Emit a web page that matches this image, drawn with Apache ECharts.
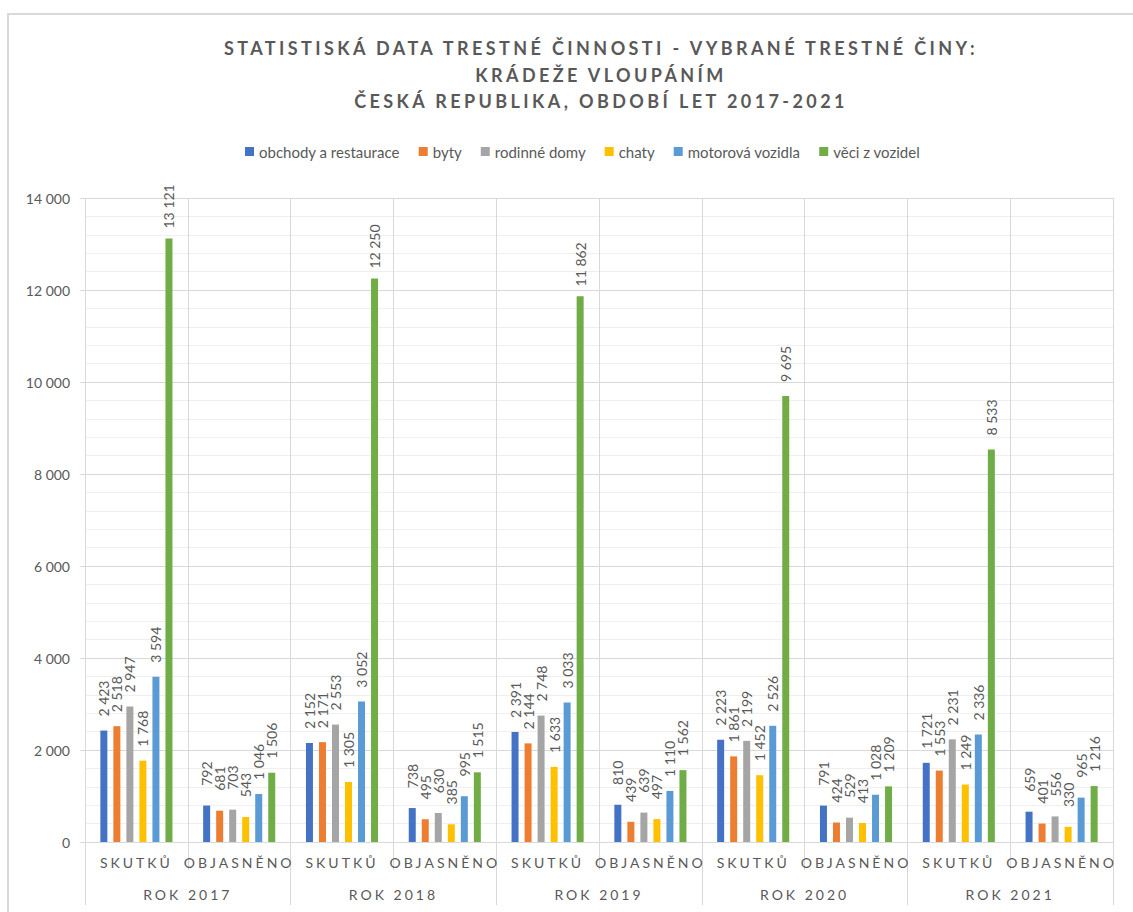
<!DOCTYPE html>
<html>
<head>
<meta charset="utf-8">
<script src="https://cdn.jsdelivr.net/npm/echarts@6/dist/echarts.min.js"></script>
<style>
html,body{margin:0;padding:0;background:#fff;}
#chart{width:1133px;height:912px;}
</style>
</head>
<body>
<div id="chart"></div>
<script>
var titleText = 'STATISTISKÁ DATA TRESTNÉ ČINNOSTI - VYBRANÉ TRESTNÉ ČINY:\nKRÁDEŽE VLOUPÁNÍM\nČESKÁ REPUBLIKA, OBDOBÍ LET 2017-2021';
var categories = ['SKUTKŮ','OBJASNĚNO','SKUTKŮ','OBJASNĚNO','SKUTKŮ','OBJASNĚNO','SKUTKŮ','OBJASNĚNO','SKUTKŮ','OBJASNĚNO'];
var years = ['ROK 2017','ROK 2018','ROK 2019','ROK 2020','ROK 2021'];
var seriesNames = ['obchody a restaurace','byty','rodinné domy','chaty','motorová vozidla','věci z vozidel'];
var obchody = [2423, 792, 2152, 738, 2391, 810, 2223, 791, 1721, 659];
var byty = [2518, 681, 2171, 495, 2144, 439, 1861, 424, 1553, 401];
var rodinneDomy = [2947, 703, 2553, 630, 2748, 639, 2199, 529, 2231, 556];
var chaty = [1768, 543, 1305, 385, 1633, 497, 1452, 413, 1249, 330];
var motorovaVozidla = [3594, 1046, 3052, 995, 3033, 1110, 2526, 1028, 2336, 965];
var veciZVozidel = [13121, 1506, 12250, 1515, 11862, 1562, 9695, 1209, 8533, 1216];
var colors = ['#4472C4','#ED7D31','#A5A5A5','#FFC000','#5B9BD5','#70AD47'];

var allData = [obchody, byty, rodinneDomy, chaty, motorovaVozidla, veciZVozidel];
function fmt(v){ return String(v).replace(/\B(?=(\d{3})+(?!\d))/g, ' '); }
var FONT = 'Lato, "Open Sans", sans-serif';
var GRAY = '#595959';
var LINE = '#D9D9D9';

var chart = echarts.init(document.getElementById('chart'), null, {renderer: 'svg'});
var series = allData.map(function(d, i){
  return {
    name: seriesNames[i],
    type: 'bar',
    xAxisIndex: 0,
    data: d,
    barWidth: 7,
    barGap: '86%',
    itemStyle: {color: colors[i]},
    label: {
      show: true,
      position: 'top',
      rotate: 90,
      align: 'center',
      verticalAlign: 'middle',
      distance: 32,
      color: GRAY,
      fontSize: 14,
      fontFamily: FONT,
      formatter: function(p){ return fmt(p.value); }
    }
  };
});

chart.setOption({
  animation: false,
  color: colors,
  graphic: [{
    type: 'rect',
    shape: {x: 8, y: 14, width: 1200, height: 1000},
    style: {fill: 'none', stroke: LINE, lineWidth: 2},
    silent: true, z: -10
  }],
  title: {
    text: titleText,
    left: 596,
    textAlign: 'center',
    top: 30,
    textStyle: {fontSize: 18, fontWeight: 'bold', color: GRAY, fontFamily: FONT, lineHeight: 26.5}
  },
  legend: {
    top: 139,
    left: 240,
    icon: 'rect',
    itemWidth: 9,
    itemHeight: 9,
    itemGap: 19,
    textStyle: {fontSize: 15, color: GRAY, fontFamily: FONT},
    data: seriesNames
  },
  grid: {left: 85, right: 20, top: 198, bottom: 70, containLabel: false},
  xAxis: [{
    type: 'category',
    data: categories,
    position: 'bottom',
    axisLine: {show: true, lineStyle: {color: LINE, width: 1}},
    axisTick: {show: true, length: 28, interval: 0, lineStyle: {color: LINE}},
    splitLine: {show: true, interval: 0, lineStyle: {color: LINE}},
    axisLabel: {interval: 0, margin: 13, fontSize: 14, color: GRAY, fontFamily: FONT}
  }, {
    type: 'category',
    data: years,
    position: 'bottom',
    axisLine: {show: false},
    axisTick: {show: true, length: 63, interval: 0, lineStyle: {color: LINE}},
    splitLine: {show: false},
    axisLabel: {interval: 0, margin: 45, fontSize: 14, color: GRAY, fontFamily: FONT}
  }],
  yAxis: {
    type: 'value',
    min: 0, max: 14000, interval: 2000,
    axisLine: {show: false},
    axisTick: {show: true, length: 5, lineStyle: {color: LINE}},
    axisLabel: {margin: 15, fontSize: 14, color: GRAY, fontFamily: FONT, formatter: function(v){ return fmt(v); }},
    splitLine: {show: true, lineStyle: {color: LINE}},
    minorTick: {show: false, splitNumber: 5},
    minorSplitLine: {show: true, lineStyle: {color: '#EFEFEF'}}
  },
  series: series
});

function applySpacing(){
  var texts = document.querySelectorAll('#chart svg text');
  texts.forEach(function(t){
    var s = t.textContent;
    var ls = null;
    if (s.indexOf('STATISTISK') === 0 || s.indexOf('KRÁDE') === 0 || s.indexOf('ČESKÁ') === 0) ls = 3.4;
    else if (s === 'SKUTKŮ' || s === 'OBJASNĚNO') ls = 3;
    else if (s.indexOf('ROK ') === 0) ls = 3;
    if (ls !== null) { t.style.letterSpacing = ls + 'px'; t.setAttribute('letter-spacing', ls); }
  });
}
applySpacing();
chart.on('finished', applySpacing);
setTimeout(applySpacing, 50);
</script>
</body>
</html>
